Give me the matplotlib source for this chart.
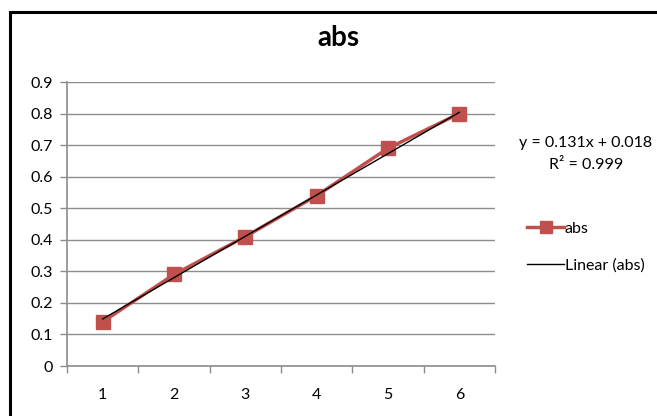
import numpy as np
import matplotlib.pyplot as plt
from matplotlib.patches import Rectangle
from matplotlib.lines import Line2D

plt.rcParams['font.family'] = ['Lato', 'DejaVu Sans']

# Absorbance readings
x = [1, 2, 3, 4, 5, 6]
absorb = [0.14, 0.29, 0.41, 0.54, 0.69, 0.80]

# Linear trendline coefficients
slope, intercept, r2 = 0.131, 0.018, 0.999

red = '#C0504D'
grey = '#8c8c8c'

fig = plt.figure(figsize=(6.57, 4.16), dpi=100)
ax = fig.add_axes([67/657, 1 - 366/416, (495-67)/657, (366-82)/416])

ax.set_xlim(0.5, 6.5)
ax.set_ylim(0, 0.9)
ax.set_yticks(np.arange(0, 0.91, 0.1))
ax.set_yticklabels(['0'] + [f'{v:.1f}' for v in np.arange(0.1, 0.91, 0.1)])
ax.set_xticks(np.arange(0.5, 6.6, 1))
ax.set_xticklabels([])
ax.set_xticks(x, minor=True)
ax.set_xticklabels([str(v) for v in x], minor=True)
ax.tick_params(axis='x', which='minor', length=0, pad=16, labelsize=11.5)
ax.tick_params(axis='x', which='major', length=5, color=grey, width=1)
ax.tick_params(axis='y', length=5, color=grey, width=1, labelsize=11.5, pad=5)
ax.yaxis.grid(True, color=grey, linewidth=1)
ax.set_axisbelow(True)
for s in ['top', 'right']:
    ax.spines[s].set_visible(False)
for s in ['left', 'bottom']:
    ax.spines[s].set_color(grey)
    ax.spines[s].set_linewidth(1.2)

ax.plot(x, absorb, color=red, linewidth=2.5, marker='s', markersize=10,
        markeredgecolor=red, zorder=3)
xt = np.array([x[0], x[-1]])
ax.plot(xt, slope * xt + intercept, color='black', linewidth=1, zorder=4)

fig.text(338/657, 1 - 38/416, 'abs', ha='center', va='center',
         fontsize=20, fontweight='bold')
fig.text(586/657, 1 - 143/416, f'y = {slope}x + {intercept}', ha='center',
         va='center', fontsize=11.5)
fig.text(586/657, 1 - 165/416, f'R² = {r2}', ha='center',
         va='center', fontsize=11.5)

handles = [Line2D([], [], color=red, linewidth=2.5, marker='s', markersize=9),
           Line2D([], [], color='black', linewidth=1)]
fig.legend(handles, ['abs', 'Linear (abs)'], loc='upper left',
           bbox_to_anchor=(513/657, 1 - 207/416), frameon=False,
           fontsize=11.5, handlelength=2.3, handletextpad=0.05, labelspacing=1.4)

fig.patches.append(Rectangle((10/657, -0.2), 2, 1.2 - 12/416,
                             transform=fig.transFigure, fill=False,
                             edgecolor='black', linewidth=2.2))

fig.savefig('out.png', dpi=100)
